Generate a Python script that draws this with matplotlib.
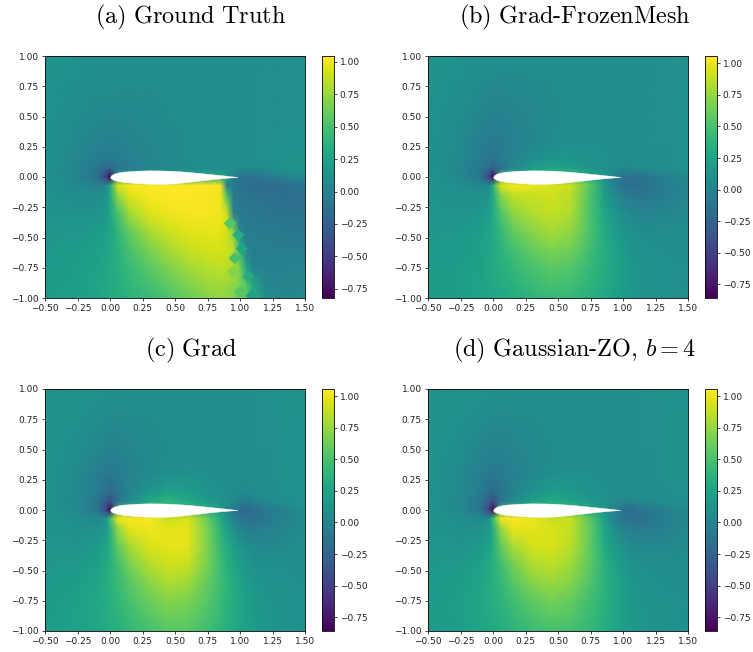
"""
Pressure field panels around the airfoil, values read off the picture.
"""
import matplotlib
matplotlib.use("Agg")
import matplotlib.pyplot as plt
import numpy as np

plt.rcParams['mathtext.fontset'] = 'cm'

x_grid = [-.5, -.25, -.1, -.03, 0, .06, .15, .3, .45, .6, .75, .85, .9, .95, 1.0, 1.05, 1.1, 1.2, 1.35, 1.5]
y_grid = [1.0, .75, .5, .3, .15, .07, 0, -.07, -.15, -.3, -.45, -.6, -.75, -.9, -1.0]

field_a = [
    [.14, .12, .11, .11, .11, .11, .10, .10, .10, .10, .10, .10, .10, .10, .10, .10, .11, .11, .11, .11],
    [.13, .10, .08, .08, .08, .08, .07, .07, .08, .09, .09, .09, .09, .09, .09, .09, .10, .10, .11, .11],
    [.12, .08, .05, .04, .04, .04, .05, .06, .07, .08, .09, .09, .09, .09, .09, .09, .10, .10, .11, .11],
    [.12, .06, .01, -.01, -.01, .0, .02, .04, .06, .08, .09, .09, .09, .09, .09, .09, .10, .10, .11, .12],
    [.12, .04, -.03, -.06, -.06, -.04, -.01, .03, .06, .08, .09, .09, .09, .09, .09, .10, .10, .11, .12, .13],
    [.12, .02, -.08, -.18, -.2, -.1, -.03, .03, .05, .07, .08, .08, .08, .09, .07, .05, .06, .09, .12, .13],
    [.12, .02, -.12, -.5, -.82, .3, .3, .3, .3, .3, .3, .3, .2, .0, -.1, -.12, -.12, -.06, .02, .08],
    [.13, .05, .01, .04, .3, .93, 1.03, 1.04, 1.04, 1.04, 1.04, 1.02, -.04, -.08, -.11, -.14, -.16, -.17, -.15, -.10],
    [.14, .08, .08, .12, .3, .75, .95, 1.02, 1.04, 1.04, 1.03, 1.0, .5, -.06, -.08, -.09, -.11, -.13, -.15, -.15],
    [.15, .13, .14, .18, .27, .5, .78, .95, 1.0, 1.02, 1.02, 1.0, .9, -.02, -.05, -.06, -.07, -.08, -.1, -.11],
    [.17, .17, .2, .24, .27, .4, .6, .8, .9, .96, .98, .98, .92, .7, -.02, -.04, -.04, -.05, -.06, -.07],
    [.18, .2, .23, .27, .3, .37, .5, .66, .8, .88, .92, .93, .9, .85, .4, .0, -.02, -.02, -.03, -.03],
    [.19, .21, .25, .28, .3, .35, .44, .56, .68, .78, .84, .87, .85, .82, .65, .25, .0, -.01, .0, .01],
    [.2, .22, .26, .29, .31, .34, .4, .48, .58, .68, .76, .78, .76, .72, .68, .55, .3, .03, .02, .03],
    [.2, .22, .26, .29, .31, .34, .38, .44, .52, .62, .7, .74, .72, .68, .62, .56, .4, .08, .04, .04],
]

field_b = [
    [.13, .12, .10, .10, .10, .09, .09, .09, .09, .09, .09, .09, .09, .09, .09, .09, .09, .09, .10, .10],
    [.13, .09, .06, .05, .04, .04, .04, .05, .06, .07, .08, .08, .08, .08, .08, .08, .08, .09, .09, .10],
    [.12, .07, .02, -.01, -.02, -.01, .01, .03, .05, .07, .08, .08, .08, .08, .08, .08, .08, .09, .09, .10],
    [.12, .05, -.03, -.06, -.07, -.05, -.02, .02, .06, .08, .08, .08, .08, .08, .08, .08, .08, .09, .09, .10],
    [.12, .04, -.05, -.08, -.1, -.07, .0, .08, .14, .14, .12, .10, .09, .09, .08, .08, .08, .08, .09, .10],
    [.12, .03, -.08, -.2, -.3, -.12, .02, .2, .28, .22, .14, .1, .08, .07, .05, .04, .05, .07, .09, .10],
    [.13, .04, -.1, -.5, -.85, .5, .5, .5, .5, .5, .3, .15, .05, -.05, -.15, -.15, -.15, -.08, .0, .05],
    [.14, .08, .03, .08, .35, .95, 1.03, 1.0, .95, .9, .55, .2, .05, -.05, -.12, -.15, -.17, -.12, -.04, .02],
    [.14, .1, .1, .14, .3, .7, .88, .9, .92, .86, .5, .22, .12, .03, -.03, -.07, -.1, -.09, -.04, .02],
    [.15, .13, .16, .22, .3, .52, .72, .83, .88, .82, .5, .28, .2, .13, .08, .04, .02, .01, .03, .05],
    [.16, .16, .2, .26, .3, .42, .58, .72, .8, .74, .5, .32, .26, .2, .15, .11, .09, .07, .07, .07],
    [.17, .18, .22, .27, .3, .37, .48, .6, .68, .64, .46, .33, .28, .24, .19, .15, .12, .1, .09, .08],
    [.18, .2, .24, .28, .3, .34, .4, .5, .57, .54, .42, .33, .29, .25, .2, .17, .14, .11, .1, .09],
    [.18, .21, .24, .27, .29, .31, .36, .43, .49, .46, .38, .31, .27, .24, .2, .17, .14, .12, .1, .09],
    [.18, .2, .23, .26, .27, .29, .33, .38, .42, .42, .35, .29, .25, .22, .19, .16, .14, .12, .1, .09],
]

field_c = [
    [.14, .12, .11, .11, .10, .10, .09, .09, .09, .09, .09, .09, .09, .09, .09, .09, .09, .10, .11, .12],
    [.13, .1, .07, .06, .05, .05, .05, .06, .07, .08, .08, .08, .08, .08, .08, .08, .09, .09, .1, .11],
    [.13, .08, .03, .0, -.01, .0, .02, .04, .06, .07, .08, .08, .08, .08, .08, .08, .09, .09, .1, .11],
    [.13, .05, -.03, -.07, -.08, -.06, -.02, .04, .09, .1, .09, .08, .08, .08, .07, .07, .08, .09, .1, .11],
    [.13, .04, -.05, -.15, -.2, -.12, .01, .15, .25, .2, .13, .1, .08, .07, .05, .04, .06, .08, .1, .11],
    [.13, .03, -.1, -.3, -.4, -.15, .06, .3, .38, .3, .18, .11, .07, .03, -.02, -.06, -.02, .05, .09, .11],
    [.13, .04, -.1, -.5, -.85, .5, .5, .5, .5, .5, .35, .2, .05, -.1, -.2, -.22, -.18, -.08, .0, .07],
    [.14, .08, .03, .1, .45, 1.0, 1.05, 1.03, .9, .95, .6, .3, .12, .0, -.1, -.15, -.14, -.09, -.01, .06],
    [.14, .1, .1, .16, .35, .75, .98, 1.02, .98, .98, .66, .38, .24, .1, .0, -.05, -.06, -.03, .02, .07],
    [.15, .14, .18, .25, .33, .58, .8, .95, .98, .98, .68, .42, .32, .22, .13, .08, .05, .04, .06, .08],
    [.16, .17, .24, .3, .35, .48, .66, .84, .92, .9, .66, .46, .36, .28, .21, .16, .12, .09, .08, .08],
    [.17, .2, .27, .32, .36, .43, .56, .72, .82, .78, .6, .46, .39, .32, .25, .2, .16, .12, .1, .09],
    [.18, .22, .29, .33, .36, .4, .49, .62, .7, .68, .55, .44, .38, .33, .27, .22, .18, .14, .11, .1],
    [.19, .23, .28, .32, .34, .37, .44, .54, .62, .6, .5, .41, .36, .32, .27, .23, .19, .15, .12, .1],
    [.19, .22, .27, .3, .32, .35, .41, .49, .56, .55, .46, .38, .34, .3, .26, .22, .19, .15, .13, .11],
]

field_d = [
    [.14, .12, .11, .11, .10, .10, .09, .09, .09, .09, .09, .09, .09, .09, .09, .09, .09, .10, .10, .11],
    [.13, .1, .07, .06, .05, .05, .05, .06, .07, .08, .08, .08, .08, .08, .08, .08, .09, .09, .1, .1],
    [.13, .08, .02, -.01, -.02, -.01, .01, .04, .06, .07, .08, .08, .08, .08, .08, .08, .09, .09, .1, .1],
    [.13, .05, -.04, -.08, -.09, -.07, -.03, .03, .08, .09, .09, .08, .08, .08, .08, .08, .08, .09, .1, .1],
    [.13, .04, -.06, -.15, -.2, -.12, .0, .12, .2, .17, .12, .1, .09, .08, .07, .07, .07, .08, .09, .1],
    [.13, .03, -.1, -.3, -.4, -.15, .04, .24, .32, .26, .16, .1, .08, .05, .02, .01, .03, .06, .09, .1],
    [.13, .04, -.1, -.5, -.85, .5, .5, .5, .5, .5, .3, .15, .05, -.05, -.17, -.18, -.15, -.08, .0, .05],
    [.14, .08, .03, .1, .45, 1.02, 1.05, 1.0, .9, .88, .55, .22, .08, -.03, -.1, -.14, -.15, -.11, -.03, .03],
    [.14, .1, .1, .16, .33, .75, 1.0, .98, .95, .88, .58, .28, .16, .06, -.01, -.05, -.07, -.06, -.01, .04],
    [.15, .14, .18, .25, .33, .58, .8, .93, .94, .86, .58, .33, .24, .17, .11, .07, .05, .03, .04, .06],
    [.16, .17, .23, .29, .34, .47, .64, .82, .87, .78, .56, .37, .29, .23, .17, .13, .1, .08, .07, .07],
    [.17, .2, .26, .31, .35, .42, .54, .7, .76, .7, .52, .38, .32, .27, .21, .17, .14, .11, .09, .08],
    [.18, .21, .27, .32, .34, .38, .46, .58, .65, .6, .47, .37, .32, .27, .22, .18, .15, .12, .1, .09],
    [.18, .21, .27, .3, .32, .35, .41, .5, .56, .53, .43, .35, .31, .27, .22, .19, .16, .13, .11, .09],
    [.18, .21, .26, .28, .3, .33, .38, .45, .5, .48, .4, .33, .29, .25, .21, .18, .16, .13, .11, .1],
]

# coarse mesh cells along the shock in the ground truth
cell_x = [.923, .987, .96, 1.013, .949, 1.064, 1.0, 1.09]
cell_y = [-.383, -.48, -.67, -.59, -.783, -.824, -.948, -.98]
cell_v = [.55, .35, .5, .28, .7, .32, .55, .25]

foil_x = [0, .01, .03, .06, .1, .2, .3, .4, .5, .6, .7, .8, .9, .98]
foil_upper = [0, .016, .028, .037, .044, .052, .055, .054, .05, .042, .032, .021, .01, 0]
foil_lower = [0, -.014, -.024, -.033, -.04, -.05, -.056, -.057, -.052, -.04, -.028, -.016, -.006, 0]

titles = [r'$\mathrm{(a)\ Ground\ Truth}$', r'$\mathrm{(b)\ Grad\text{-}FrozenMesh}$',
          r'$\mathrm{(c)\ Grad}$', r'$\mathrm{(d)\ Gaussian\text{-}ZO,}\,b=4$']
limits = [(-.822, 1.046), (-.858, 1.058), (-.86, 1.058), (-.86, 1.058)]
fields = [field_a, field_b, field_c, field_d]
xticks = np.arange(-.5, 1.51, .25)
yticks = np.arange(-1, 1.01, .25)
cticks = np.arange(-.75, 1.01, .25)

W, H = 753, 652
fig = plt.figure(figsize=(W / 100, H / 100), dpi=100)

def place(left, top, width, height):
    return [left / W, 1 - (top + height) / H, width / W, height / H]

def fmt(ticks):
    return ['%.2f' % t if t >= 0 else '\u2212%.2f' % -t for t in ticks]

lefts = [45, 428, 45, 428]
tops = [56, 56, 389, 389]
title_x = [191, 575, 191, 575]
title_y = [17, 17, 350, 350]

for i in range(4):
    ax = fig.add_axes(place(lefts[i], tops[i], 260, 242))
    mesh = ax.pcolormesh(x_grid, y_grid, np.array(fields[i]), shading='gouraud', cmap='viridis',
                         vmin=limits[i][0], vmax=limits[i][1], rasterized=True)
    if i == 0:
        ax.scatter(cell_x, cell_y, c=cell_v, marker='D', s=40, linewidths=0, cmap='viridis',
                   vmin=limits[i][0], vmax=limits[i][1], zorder=2)
    ax.fill_between(foil_x, foil_lower, foil_upper, color='white', lw=0.3, zorder=3)
    ax.set_xlim(-.5, 1.5)
    ax.set_ylim(-1, 1)
    ax.set_xticks(xticks)
    ax.set_yticks(yticks)
    ax.set_xticklabels(fmt(xticks))
    ax.set_yticklabels(fmt(yticks))
    ax.tick_params(labelsize=6.5, length=2.5, width=.6, pad=2, colors='#222222')
    for s in ax.spines.values():
        s.set_linewidth(.6)
    cax = fig.add_axes(place(lefts[i] + 277, tops[i], 11.5, 242))
    cb = fig.colorbar(mesh, cax=cax)
    cb.set_ticks(cticks)
    cb.set_ticklabels(fmt(cticks))
    cb.ax.tick_params(labelsize=6.5, length=2.5, width=.6, pad=2, colors='#222222')
    cb.outline.set_linewidth(.6)
    fig.text(title_x[i] / W, 1 - title_y[i] / H, titles[i], ha='center', va='center', fontsize=17.5)

fig.savefig('out.png', dpi=100)
